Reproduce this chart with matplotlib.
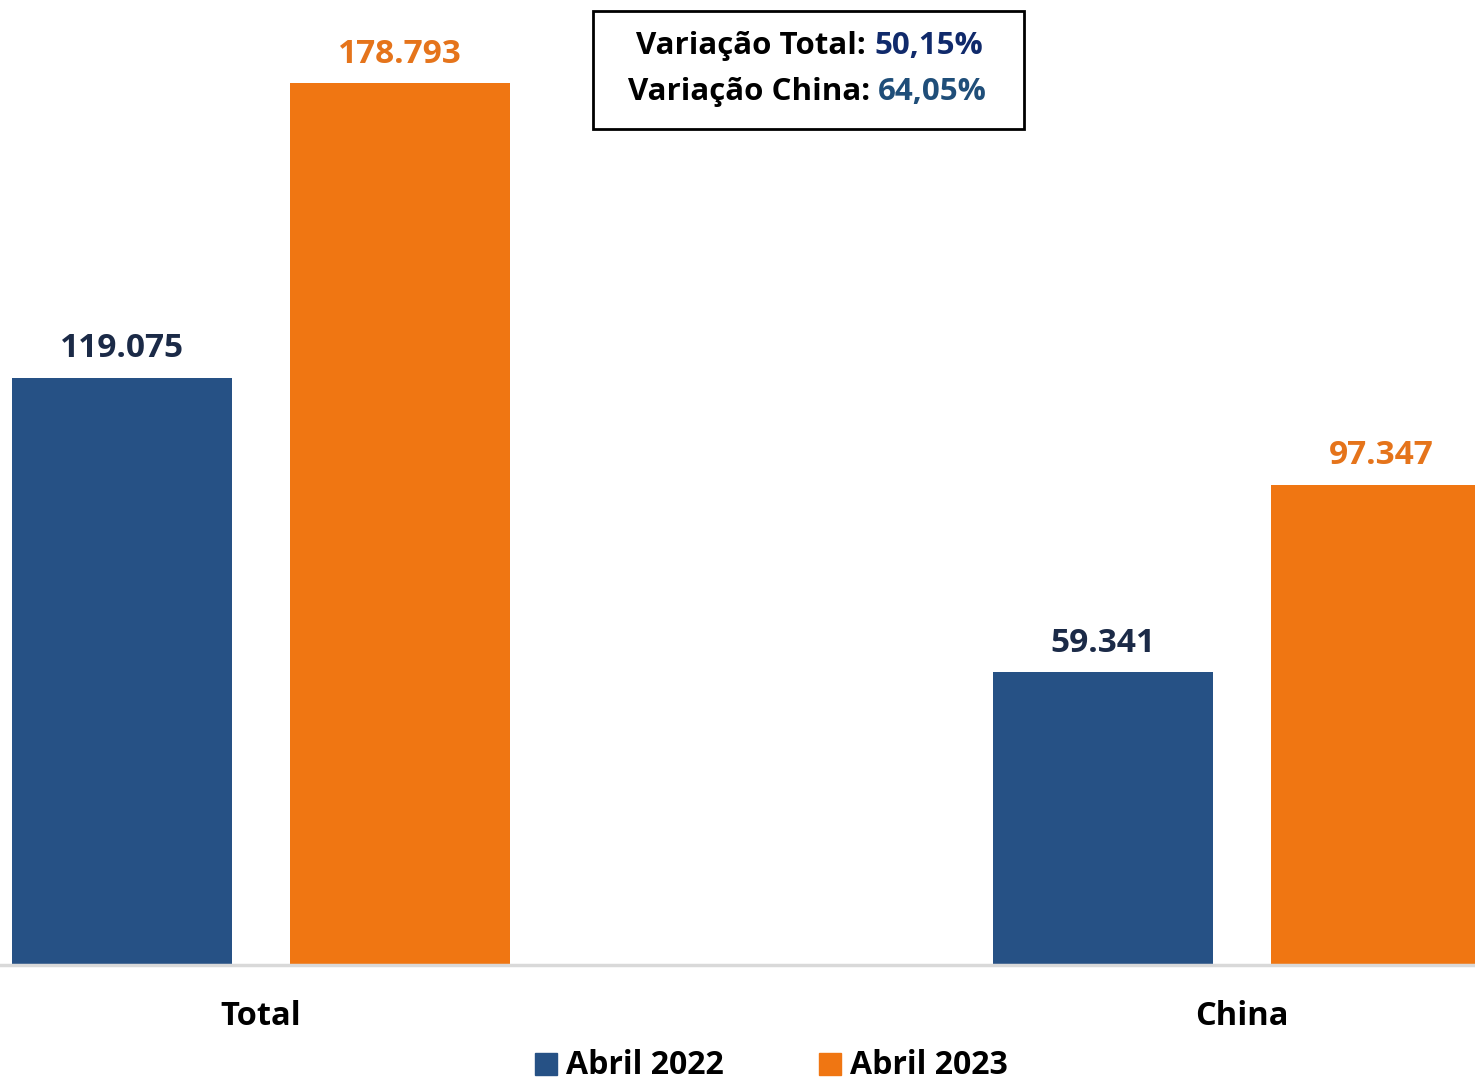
import matplotlib
matplotlib.use("Agg")
import matplotlib.pyplot as plt
import numpy as np
from matplotlib.patches import Rectangle

plt.rcParams['font.family'] = ['Open Sans', 'DejaVu Sans']
plt.rcParams['font.weight'] = 'bold'

categories = ["Total", "China"]
series_names = ["Abril 2022", "Abril 2023"]
vals_2022 = [119075, 59341]
vals_2023 = [178793, 97347]
val_labels_2022 = ["119.075", "59.341"]
val_labels_2023 = ["178.793", "97.347"]
var_labels = ["Variação Total:", "Variação China:"]
var_values = ["50,15%", "64,05%"]

blue = "#265185"
orange = "#F07612"
blue_txt = "#1B2A47"
orange_txt = "#E5741B"

W, H = 1475, 1080
fig = plt.figure(figsize=(W / 100, H / 100), dpi=100)

# axes: full width, bottom at baseline y=965px, top at figure top
ax = fig.add_axes([0, 1 - 965 / H, 1, 965 / H])
x = np.arange(len(categories))
width = 0.2243
off = 0.1417
ax.bar(x - off, vals_2022, width, color=blue)
ax.bar(x + off, vals_2023, width, color=orange)
ax.set_xlim(-0.2661, 1.2375)
ax.set_ylim(0, 178793 * 965 / 882)
for s in ax.spines.values():
    s.set_visible(False)
ax.set_xticks([])
ax.set_yticks([])
ax.axhline(0, color="#d9d9d9", lw=2.5, clip_on=False)

for i in range(len(categories)):
    ax.annotate(val_labels_2022[i], (x[i] - off, vals_2022[i]), xytext=(0, 9),
                textcoords="offset points", ha="center", va="bottom",
                fontsize=24, color=blue_txt, fontweight="bold")
    ax.annotate(val_labels_2023[i], (x[i] + off, vals_2023[i]), xytext=(0, 9),
                textcoords="offset points", ha="center", va="bottom",
                fontsize=24, color=orange_txt, fontweight="bold")
    ax.annotate(categories[i], (x[i], 0), xytext=(0, -37),
                textcoords="offset points", ha="center", va="center",
                fontsize=23.5, color="black", fontweight="bold")

# variation box
fig.patches.append(Rectangle((593 / W, 1 - 129 / H), (1024 - 593) / W, (129 - 11) / H,
                             transform=fig.transFigure, fill=False, ec="black", lw=2))
split_x = [866, 870]
line_y = [46, 92]
val_colors = ["#102A6B", "#1F4E79"]
for i in range(2):
    fig.text(split_x[i] / W, 1 - line_y[i] / H, var_labels[i], ha="right", va="center",
             fontsize=22.5, color="black", fontweight="bold")
    fig.text((split_x[i] + 8) / W, 1 - line_y[i] / H, var_values[i], ha="left", va="center",
             fontsize=22.5, color=val_colors[i], fontweight="bold")

# legend
leg_x = [535, 819]
for i, name in enumerate(series_names):
    c = blue if i == 0 else orange
    fig.patches.append(Rectangle((leg_x[i] / W, 1 - 1075 / H), 22 / W, 22 / H,
                                 transform=fig.transFigure, color=c))
    fig.text((leg_x[i] + 31) / W, 1 - 1065 / H, name, ha="left", va="center",
             fontsize=23, color="black", fontweight="bold")

fig.savefig("out.png", dpi=100)
